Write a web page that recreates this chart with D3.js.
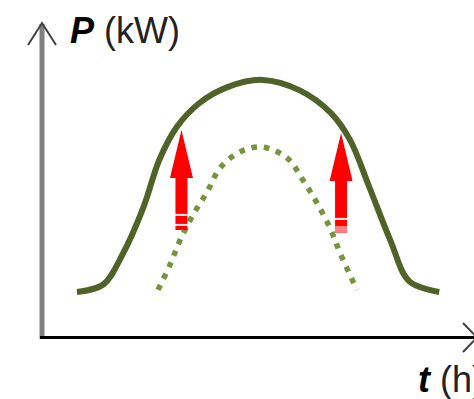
<!DOCTYPE html>
<html>
<head>
<meta charset="utf-8">
<script src="https://cdn.jsdelivr.net/npm/d3@7"></script>
<style>
  html, body { margin: 0; padding: 0; background: #fff; }
  svg { display: block; }
</style>
</head>
<body>
<svg id="chart" width="474" height="399"></svg>
<script>
// load profile, hours vs kW
var solidT = [2.0, 3.5, 4.6, 5.8, 6.7, 7.7, 9.0, 10.6, 12.6, 14.7, 16.5, 17.6, 18.7, 19.9, 21.0, 22.7];
var solidP = [1.5, 1.75, 2.75, 4.33, 5.9, 7.0, 7.8, 8.33, 8.57, 8.23, 7.47, 6.57, 5.0, 3.23, 1.85, 1.5];

var dotT = [6.63, 7.31, 7.89, 8.63, 9.43, 10.17, 11.31, 12.57, 14.0, 14.91, 15.71, 16.46, 17.03, 18.0];
var dotP = [1.57, 2.4, 3.23, 4.07, 4.83, 5.63, 6.17, 6.33, 5.97, 5.23, 4.47, 3.63, 2.8, 1.57];

// the two red up arrows
var arrowT = [7.97, 17.09];
var arrowFrom = [3.57, 3.47];
var arrowTo = [6.9, 6.8];

var yLabel = ['P', ' (kW)'];
var xLabel = ['t', ' (h)'];

var WIDTH = 474, HEIGHT = 399;
var svg = d3.select('#chart');

var x = d3.scaleLinear().domain([0, 24]).range([42, 462]);
var y = d3.scaleLinear().domain([0, 10]).range([337, 37]);

// axes drawn as plain lines with open arrow heads
svg.append('line')
    .attr('x1', 42).attr('x2', 42)
    .attr('y1', 339).attr('y2', 24)
    .attr('stroke', '#808080')
    .attr('stroke-width', 5);
svg.append('path')
    .attr('d', 'M28,45 L42,23 L56,45')
    .attr('fill', 'none')
    .attr('stroke', '#404040')
    .attr('stroke-width', 2);

svg.append('line')
    .attr('x1', 40).attr('x2', 477)
    .attr('y1', 337.5).attr('y2', 337.5)
    .attr('stroke', '#000')
    .attr('stroke-width', 3);
svg.append('path')
    .attr('d', 'M463,323 L477,337.5 L463,352')
    .attr('fill', 'none')
    .attr('stroke', '#404040')
    .attr('stroke-width', 2);

var lineFunc = d3.line()
    .x(function(d) { return x(d.t); })
    .y(function(d) { return y(d.p); })
    .curve(d3.curveCatmullRom.alpha(0.5));

var solidData = solidT.map(function(t, i) { return {t: t, p: solidP[i]}; });
var dotData = dotT.map(function(t, i) { return {t: t, p: dotP[i]}; });

svg.append('path')
    .attr('d', lineFunc(dotData))
    .attr('fill', 'none')
    .attr('stroke', '#77933C')
    .attr('stroke-width', 5.5)
    .attr('stroke-dasharray', '5.5,7');

svg.append('path')
    .attr('d', lineFunc(solidData))
    .attr('fill', 'none')
    .attr('stroke', '#4F6228')
    .attr('stroke-width', 6)
    .attr('stroke-linecap', 'butt');

// striped block arrows
for (let i = 0; i < arrowT.length; i++) {
    let cx = x(arrowT[i]);
    let tipY = y(arrowTo[i]);
    let botY = y(arrowFrom[i]);
    let headH = 48, headW = 11.5, shaftW = 6;
    let pts = [
        [cx, tipY],
        [cx + headW, tipY + headH],
        [cx + shaftW, tipY + headH],
        [cx + shaftW, botY],
        [cx - shaftW, botY],
        [cx - shaftW, tipY + headH],
        [cx - headW, tipY + headH]
    ];
    svg.append('path')
        .attr('d', d3.line()(pts) + 'Z')
        .attr('fill', '#FF0000');
    if (i === 0) {
        [botY - 16, botY - 6].forEach(function(sy) {
            svg.append('rect')
                .attr('x', cx - shaftW - 1).attr('y', sy)
                .attr('width', shaftW * 2 + 2).attr('height', 2)
                .attr('fill', '#fff').attr('opacity', 0.9);
        });
    } else {
        svg.append('rect')
            .attr('x', cx - shaftW).attr('y', botY - 7)
            .attr('width', shaftW * 2).attr('height', 7)
            .attr('fill', '#FF8080');
        svg.append('rect')
            .attr('x', cx - shaftW - 1).attr('y', botY - 15)
            .attr('width', shaftW * 2 + 2).attr('height', 2)
            .attr('fill', '#fff').attr('opacity', 0.9);
    }
}

// axis titles
var yt = svg.append('text')
    .attr('x', 70).attr('y', 43)
    .attr('font-family', 'Liberation Sans, Arial, sans-serif')
    .attr('font-size', 36)
    .attr('fill', '#000');
yt.append('tspan').attr('font-weight', 'bold').attr('font-style', 'italic').text(yLabel[0]);
yt.append('tspan').attr('fill', '#222').text(yLabel[1]);

var xt = svg.append('text')
    .attr('x', 418).attr('y', 392)
    .attr('font-family', 'Liberation Sans, Arial, sans-serif')
    .attr('font-size', 36)
    .attr('fill', '#000');
xt.append('tspan').attr('font-weight', 'bold').attr('font-style', 'italic').text(xLabel[0]);
xt.append('tspan').attr('fill', '#222').text(xLabel[1]);
</script>
</body>
</html>
